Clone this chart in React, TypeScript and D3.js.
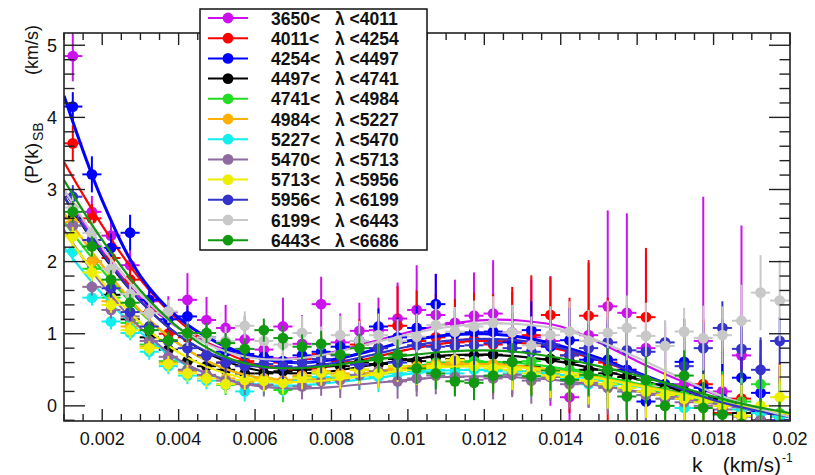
import React from 'react';
import * as d3 from 'd3';

// ---------- data ----------
const K_CENTERS = [0.00123, 0.00173, 0.00223, 0.00273, 0.00323, 0.00373, 0.00423, 0.00473, 0.00523, 0.00573,
  0.00623, 0.00673, 0.00723, 0.00773, 0.00823, 0.00873, 0.00923, 0.00973, 0.01023, 0.01073,
  0.01123, 0.01173, 0.01223, 0.01273, 0.01323, 0.01373, 0.01423, 0.01473, 0.01523, 0.01573,
  0.01623, 0.01673, 0.01723, 0.01773, 0.01823, 0.01873, 0.01923, 0.01973];
const K_HALF_WIDTH = 0.00025;
const FIT_K = [0.001, 0.002, 0.003, 0.004, 0.005, 0.006, 0.007, 0.008, 0.009, 0.010,
  0.011, 0.012, 0.013, 0.014, 0.015, 0.016, 0.017, 0.018, 0.019, 0.020];

const LAMBDA_LOW = [3650, 4011, 4254, 4497, 4741, 4984, 5227, 5470, 5713, 5956, 6199, 6443];
const LAMBDA_HIGH = [4011, 4254, 4497, 4741, 4984, 5227, 5470, 5713, 5956, 6199, 6443, 6686];
const COLORS = ['#cc11ee', '#ff0000', '#0000ff', '#000000', '#22dd22', '#ffb000', '#11eeee', '#8e6aa0', '#eeee00', '#3333cc', '#c8c8c8', '#119911'];

const P_3650 = [4.85, 2.69, 2.36, 1.95, 1.45, 1.30, 1.47, 1.19, 1.08, 0.92, 0.78, 1.10, 0.86, 1.41, 0.88, 1.04, 1.05, 1.21, 1.33, 1.26, 1.15, 1.25, 1.28, 1.02, 0.95, 0.90, 0.12, 0.98, 1.38, 1.29, 0.80, 0.20, 0.30, 0.90, 0.20, 0.70, -0.50, -0.60];
const E_3650 = [0.35, 0.22, 0.20, 0.20, 0.20, 0.22, 0.37, 0.32, 0.32, 0.33, 0.35, 0.40, 0.40, 0.38, 0.40, 0.39, 0.45, 0.50, 0.62, 0.57, 0.60, 0.60, 0.74, 0.56, 0.80, 0.90, 0.85, 1.00, 1.33, 1.38, 1.30, 0.90, 0.90, 2.00, 1.00, 1.80, 1.00, 1.00];
const P_4011 = [3.64, 2.60, 2.05, 1.75, 1.30, 1.00, 0.95, 0.70, 0.60, 0.62, 0.55, 0.60, 0.65, 0.72, 0.62, 0.85, 0.80, 1.11, 0.90, 0.95, 0.88, 0.92, 0.85, 0.90, 0.98, 1.26, 0.70, 1.25, 0.60, 0.50, 1.23, 0.20, 0.10, 0.30, -0.10, 0.10, -0.20, -0.30];
const E_4011 = [0.25, 0.20, 0.15, 0.15, 0.15, 0.15, 0.18, 0.20, 0.20, 0.22, 0.25, 0.28, 0.30, 0.30, 0.32, 0.35, 0.40, 0.55, 0.70, 0.60, 0.60, 0.65, 0.70, 0.75, 0.83, 0.53, 0.80, 0.77, 0.90, 0.90, 0.96, 0.90, 0.90, 0.90, 0.90, 0.90, 0.90, 0.90];
const P_4254 = [4.15, 3.21, 2.19, 2.40, 1.47, 1.20, 1.24, 0.95, 0.75, 0.72, 0.68, 0.62, 0.70, 0.75, 0.82, 0.90, 1.10, 0.95, 1.08, 1.41, 1.00, 1.02, 1.03, 0.88, 1.05, 0.82, 0.91, 0.64, 0.64, 0.50, 0.06, 0.30, 0.61, 0.25, 0.10, 0.39, 0.18, -0.20];
const E_4254 = [0.20, 0.25, 0.20, 0.25, 0.18, 0.15, 0.15, 0.15, 0.15, 0.15, 0.15, 0.18, 0.20, 0.20, 0.22, 0.25, 0.25, 0.28, 0.30, 0.42, 0.32, 0.35, 0.35, 0.40, 0.40, 0.45, 0.45, 0.50, 0.50, 0.55, 0.55, 0.60, 0.60, 0.65, 0.65, 0.70, 0.73, 0.75];
const P_4497 = [2.60, 2.00, 1.54, 1.20, 0.95, 0.78, 0.62, 0.55, 0.50, 0.45, 0.45, 0.48, 0.50, 0.55, 0.55, 0.60, 0.58, 0.65, 0.62, 0.68, 0.65, 0.70, 0.71, 0.60, 0.55, 0.65, 0.61, 0.50, 0.45, 0.40, 0.30, 0.25, 0.20, 0.10, 0.00, -0.10, -0.20, -0.30];
const E_4497 = [0.15, 0.12, 0.13, 0.12, 0.11, 0.12, 0.13, 0.14, 0.13, 0.15, 0.17, 0.16, 0.18, 0.20, 0.19, 0.22, 0.21, 0.24, 0.25, 0.23, 0.27, 0.26, 0.28, 0.30, 0.29, 0.32, 0.31, 0.34, 0.36, 0.35, 0.38, 0.37, 0.40, 0.42, 0.41, 0.44, 0.46, 0.45];
const P_4741 = [2.50, 1.90, 1.50, 1.15, 0.85, 0.62, 0.50, 0.42, 0.29, 0.35, 0.38, 0.22, 0.40, 0.45, 0.42, 0.50, 0.45, 0.55, 0.50, 0.60, 0.55, 0.62, 0.50, 0.55, 0.62, 0.45, 0.50, 0.40, 0.35, 0.30, 0.30, 0.20, 0.15, 0.10, 0.05, 0.06, 0.30, -0.10];
const E_4741 = [0.14, 0.12, 0.12, 0.11, 0.12, 0.12, 0.13, 0.13, 0.14, 0.15, 0.16, 0.17, 0.18, 0.19, 0.19, 0.21, 0.22, 0.23, 0.24, 0.25, 0.26, 0.27, 0.28, 0.29, 0.31, 0.30, 0.33, 0.34, 0.35, 0.37, 0.38, 0.39, 0.40, 0.42, 0.43, 0.44, 0.45, 0.47];
const P_4984 = [2.55, 2.00, 1.45, 1.10, 0.82, 0.60, 0.48, 0.42, 0.38, 0.33, 0.38, 0.35, 0.42, 0.48, 0.45, 0.50, 0.48, 0.52, 0.55, 0.58, 0.60, 0.55, 0.58, 0.50, 0.48, 0.45, 0.42, 0.35, 0.30, 0.25, 0.20, 0.15, 0.10, 0.05, 0.00, -0.05, -0.10, -0.15];
const E_4984 = [0.14, 0.12, 0.11, 0.12, 0.11, 0.12, 0.12, 0.14, 0.13, 0.15, 0.16, 0.16, 0.18, 0.19, 0.20, 0.20, 0.22, 0.23, 0.25, 0.24, 0.26, 0.28, 0.27, 0.30, 0.31, 0.30, 0.33, 0.35, 0.34, 0.37, 0.38, 0.40, 0.39, 0.42, 0.44, 0.43, 0.46, 0.48];
const P_5227 = [2.14, 1.50, 1.17, 1.01, 0.75, 0.55, 0.42, 0.35, 0.30, 0.20, 0.30, 0.28, 0.35, 0.40, 0.38, 0.42, 0.40, 0.45, 0.48, 0.50, 0.45, 0.50, 0.48, 0.45, 0.42, 0.40, 0.38, 0.30, 0.28, 0.20, 0.15, 0.10, -0.03, 0.05, 0.00, -0.05, -0.10, -0.15];
const E_5227 = [0.13, 0.11, 0.11, 0.10, 0.11, 0.11, 0.12, 0.12, 0.13, 0.14, 0.15, 0.16, 0.17, 0.17, 0.19, 0.20, 0.21, 0.21, 0.23, 0.24, 0.25, 0.25, 0.27, 0.28, 0.29, 0.30, 0.31, 0.32, 0.34, 0.35, 0.36, 0.37, 0.38, 0.40, 0.41, 0.42, 0.44, 0.45];
const P_5470 = [2.50, 1.65, 1.33, 1.24, 0.90, 0.68, 0.50, 0.43, 0.35, 0.30, 0.29, 0.33, 0.27, 0.34, 0.36, 0.43, 0.48, 0.34, 0.38, 0.42, 0.40, 0.36, 0.38, 0.43, 0.35, 0.40, 0.30, 0.32, 0.25, 0.20, 0.15, 0.10, 0.05, 0.00, -0.05, -0.15, -0.20, -0.30];
const E_5470 = [0.14, 0.12, 0.12, 0.11, 0.11, 0.12, 0.12, 0.13, 0.14, 0.15, 0.16, 0.17, 0.18, 0.20, 0.25, 0.21, 0.22, 0.24, 0.25, 0.26, 0.27, 0.28, 0.29, 0.31, 0.32, 0.33, 0.34, 0.35, 0.37, 0.38, 0.39, 0.41, 0.42, 0.43, 0.45, 0.46, 0.47, 0.49];
const P_5713 = [2.35, 1.85, 1.40, 1.05, 0.80, 0.58, 0.45, 0.38, 0.30, 0.36, 0.35, 0.32, 0.39, 0.46, 0.42, 0.50, 0.45, 0.55, 0.52, 0.55, 0.64, 0.55, 0.52, 0.50, 0.45, 0.42, 0.40, 0.35, 0.30, 0.25, 0.20, 0.15, 0.10, 0.05, 0.00, -0.14, 0.00, 0.12];
const E_5713 = [0.13, 0.12, 0.11, 0.11, 0.10, 0.11, 0.12, 0.12, 0.13, 0.14, 0.15, 0.16, 0.16, 0.18, 0.19, 0.20, 0.21, 0.22, 0.23, 0.24, 0.25, 0.26, 0.27, 0.28, 0.30, 0.31, 0.32, 0.33, 0.34, 0.36, 0.37, 0.38, 0.39, 0.41, 0.42, 0.43, 0.45, 0.46];
const P_5956 = [2.90, 2.30, 1.63, 1.30, 1.10, 0.90, 0.80, 0.70, 0.60, 0.55, 0.58, 0.55, 0.60, 0.65, 0.70, 0.57, 0.80, 0.60, 0.84, 0.82, 0.83, 0.84, 0.87, 0.80, 0.75, 0.85, 0.70, 0.80, 0.88, 0.77, 0.75, 0.88, 0.55, 0.80, 1.08, 0.79, 0.50, 0.90];
const E_5956 = [0.16, 0.14, 0.13, 0.12, 0.13, 0.13, 0.14, 0.15, 0.15, 0.16, 0.17, 0.18, 0.19, 0.20, 0.21, 0.22, 0.23, 0.24, 0.25, 0.26, 0.27, 0.28, 0.29, 0.30, 0.31, 0.32, 0.33, 0.34, 0.34, 0.33, 0.32, 0.30, 0.35, 0.36, 0.37, 0.40, 0.45, 0.33];
const P_6199 = [2.75, 2.40, 1.90, 1.55, 1.29, 1.31, 1.00, 0.95, 0.90, 1.11, 0.90, 0.85, 1.01, 0.85, 0.98, 0.90, 0.98, 0.90, 0.96, 1.12, 1.03, 1.10, 1.15, 1.02, 0.84, 0.98, 1.03, 0.90, 1.01, 1.08, 0.97, 0.83, 1.03, 0.94, 0.98, 1.18, 1.57, 1.46];
const E_6199 = [0.20, 0.18, 0.16, 0.15, 0.15, 0.16, 0.17, 0.18, 0.20, 0.20, 0.22, 0.22, 0.24, 0.25, 0.27, 0.28, 0.30, 0.30, 0.32, 0.33, 0.34, 0.36, 0.37, 0.38, 0.40, 0.40, 0.42, 0.43, 0.45, 0.45, 0.46, 0.35, 0.33, 0.45, 0.40, 0.50, 0.52, 0.56];
const P_6443 = [2.69, 2.21, 1.75, 1.43, 1.05, 0.91, 1.01, 1.01, 0.87, 0.79, 1.05, 0.94, 0.82, 0.86, 0.71, 0.80, 0.66, 0.71, 0.52, 0.45, 0.34, 0.32, 0.42, 0.61, 0.41, 0.49, 0.36, 0.43, 0.50, 0.13, 0.36, 0.00, 0.42, -0.03, -0.12, -0.25, -0.30, -0.35];
const E_6443 = [0.15, 0.14, 0.13, 0.12, 0.12, 0.12, 0.13, 0.14, 0.14, 0.15, 0.16, 0.17, 0.17, 0.18, 0.19, 0.20, 0.20, 0.21, 0.22, 0.22, 0.20, 0.24, 0.24, 0.26, 0.27, 0.28, 0.29, 0.30, 0.30, 0.32, 0.33, 0.34, 0.35, 0.36, 0.37, 0.38, 0.40, 0.41];

const FIT_3650 = [3.0, 2.15, 1.5, 1.08, 0.82, 0.68, 0.66, 0.74, 0.88, 1.02, 1.13, 1.19, 1.18, 1.1, 0.88, 0.62, 0.38, 0.17, -0.01, -0.15];
const FIT_4011 = [3.38, 2.5, 1.75, 1.18, 0.8, 0.58, 0.5, 0.55, 0.66, 0.78, 0.87, 0.9, 0.87, 0.78, 0.63, 0.45, 0.27, 0.1, -0.03, -0.13];
const FIT_4254 = [4.3, 2.85, 1.8, 1.22, 0.88, 0.68, 0.6, 0.64, 0.76, 0.9, 0.98, 1.0, 0.95, 0.83, 0.66, 0.46, 0.26, 0.07, -0.06, -0.15];
const FIT_4497 = [2.9, 2.1, 1.45, 0.98, 0.67, 0.5, 0.45, 0.48, 0.56, 0.64, 0.7, 0.71, 0.68, 0.61, 0.5, 0.37, 0.23, 0.1, -0.02, -0.12];
const FIT_4741 = [2.55, 1.88, 1.3, 0.86, 0.56, 0.4, 0.35, 0.38, 0.46, 0.54, 0.6, 0.61, 0.59, 0.52, 0.42, 0.31, 0.19, 0.07, -0.03, -0.12];
const FIT_4984 = [2.67, 1.95, 1.32, 0.86, 0.56, 0.4, 0.36, 0.39, 0.46, 0.53, 0.57, 0.58, 0.55, 0.48, 0.39, 0.29, 0.18, 0.07, -0.03, -0.12];
const FIT_5227 = [2.2, 1.55, 1.02, 0.62, 0.4, 0.3, 0.28, 0.32, 0.38, 0.44, 0.49, 0.5, 0.48, 0.43, 0.36, 0.27, 0.17, 0.07, -0.03, -0.12];
const FIT_5470 = [2.44, 1.68, 1.08, 0.64, 0.4, 0.28, 0.24, 0.26, 0.31, 0.36, 0.4, 0.41, 0.39, 0.35, 0.28, 0.2, 0.12, 0.03, -0.05, -0.13];
const FIT_5713 = [2.4, 1.72, 1.15, 0.74, 0.49, 0.36, 0.33, 0.36, 0.43, 0.5, 0.54, 0.55, 0.53, 0.47, 0.38, 0.28, 0.17, 0.07, -0.03, -0.12];
const FIT_5956 = [2.9, 2.12, 1.45, 0.98, 0.69, 0.55, 0.53, 0.59, 0.7, 0.82, 0.9, 0.93, 0.9, 0.8, 0.64, 0.45, 0.26, 0.08, -0.05, -0.15];
const FIT_6199 = [3.0, 2.2, 1.55, 1.08, 0.8, 0.66, 0.65, 0.73, 0.86, 0.99, 1.09, 1.14, 1.13, 1.06, 0.9, 0.67, 0.42, 0.18, -0.01, -0.15];
const FIT_6443 = [3.13, 2.3, 1.6, 1.08, 0.73, 0.56, 0.52, 0.56, 0.63, 0.7, 0.75, 0.77, 0.74, 0.66, 0.55, 0.42, 0.28, 0.13, 0.0, -0.1];

const POINTS = [P_3650, P_4011, P_4254, P_4497, P_4741, P_4984, P_5227, P_5470, P_5713, P_5956, P_6199, P_6443];
const ERRORS = [E_3650, E_4011, E_4254, E_4497, E_4741, E_4984, E_5227, E_5470, E_5713, E_5956, E_6199, E_6443];
const FITS = [FIT_3650, FIT_4011, FIT_4254, FIT_4497, FIT_4741, FIT_4984, FIT_5227, FIT_5470, FIT_5713, FIT_5956, FIT_6199, FIT_6443];

const X_TICK_LABELS = ['0.002', '0.004', '0.006', '0.008', '0.01', '0.012', '0.014', '0.016', '0.018', '0.02'];
const Y_TICK_LABELS = ['0', '1', '2', '3', '4', '5'];

// ---------- layout ----------
const W = 815;
const H = 475;
const L = 64, R = 790, T = 33, B = 421;
const FONT = '"Liberation Sans", Arial, Helvetica, sans-serif';

export default function App() {
  const x = d3.scaleLinear().domain([0.001, 0.02]).range([L, R]);
  const y = d3.scaleLinear().domain([-0.21, 5.17]).range([B, T]);

  const xMajor = x.ticks(10);
  const xMinor = x.ticks(40);
  const yMajor = y.ticks(5);
  const yMinor = y.ticks(25);

  const line = d3.line<[number, number]>()
    .x(d => x(d[0]))
    .y(d => y(d[1]))
    .curve(d3.curveCatmullRom.alpha(0.5));

  const isMajorX = (v: number) => xMajor.some(m => Math.abs(m - v) < 1e-9);
  const isMajorY = (v: number) => yMajor.some(m => Math.abs(m - v) < 1e-9);

  return (
    <svg width={W} height={H} style={{ position: 'absolute', left: 0, top: 0, background: '#fff' }}
      fontFamily={FONT}>
      <defs>
        <clipPath id="frame">
          <rect x={L} y={T} width={R - L} height={B - T} />
        </clipPath>
      </defs>
      <rect x={0} y={0} width={W} height={H} fill="#fff" />

      {/* data */}
      <g clipPath="url(#frame)">
        {POINTS.map((pts, s) => (
          <g key={s}>
            {pts.map((v, i) => {
              const k = K_CENTERS[i];
              const e = ERRORS[s][i];
              return (
                <g key={i} stroke={COLORS[s]} strokeWidth={2}>
                  <line x1={x(k - K_HALF_WIDTH)} x2={x(k + K_HALF_WIDTH)} y1={y(v)} y2={y(v)} />
                  <line x1={x(k)} x2={x(k)} y1={y(v - e)} y2={y(v + e)} />
                </g>
              );
            })}
            {pts.map((v, i) => (
              <circle key={'m' + i} cx={x(K_CENTERS[i])} cy={y(v)} r={5.4} fill={COLORS[s]} />
            ))}
            <path d={line(FIT_K.map((k, j) => [k, FITS[s][j]] as [number, number])) || ''}
              fill="none" stroke={COLORS[s]} strokeWidth={s === 2 ? 3 : 2.2} />
          </g>
        ))}
      </g>

      {/* frame & ticks */}
      <g stroke="#222" strokeWidth={1.4}>
        <rect x={L} y={T} width={R - L} height={B - T} fill="none" strokeWidth={1.6} />
        {xMinor.map((v, i) => {
          const len = isMajorX(v) ? 12 : 7;
          return (
            <g key={'xt' + i}>
              <line x1={x(v)} x2={x(v)} y1={B} y2={B - len} />
              <line x1={x(v)} x2={x(v)} y1={T} y2={T + len} />
            </g>
          );
        })}
        {yMinor.map((v, i) => {
          const len = isMajorY(v) ? 21 : 10.5;
          return (
            <g key={'yt' + i}>
              <line x1={L} x2={L + len} y1={y(v)} y2={y(v)} />
              <line x1={R} x2={R - len} y1={y(v)} y2={y(v)} />
            </g>
          );
        })}
      </g>

      {/* tick labels */}
      <g fontSize={18} fill="#111">
        {xMajor.map((v, i) => (
          <text key={'xl' + i} x={x(v)} y={445} textAnchor="middle">{X_TICK_LABELS[i]}</text>
        ))}
        {yMajor.map((v, i) => (
          <text key={'yl' + i} x={57} y={y(v) + 6.5} textAnchor="end">{Y_TICK_LABELS[i]}</text>
        ))}
      </g>

      {/* axis titles */}
      <g transform="translate(38,0) rotate(-90)" fill="#111">
        <text x={-184} y={0} fontSize={19}>(P(k)</text>
        <text x={-141} y={5} fontSize={14}>SB</text>
        <text x={-25} y={0} fontSize={18} textAnchor="end">(km/s)</text>
      </g>
      <g fill="#111">
        <text x={692} y={472} fontSize={21}>k</text>
        <text x={781} y={472} fontSize={21} textAnchor="end">(km/s)</text>
        <text x={782} y={462} fontSize={12}>-1</text>
      </g>

      {/* legend */}
      <g>
        <rect x={200} y={9} width={227} height={241} fill="#fff" stroke="#111" strokeWidth={1.5} />
        {LAMBDA_LOW.map((lo, i) => {
          const cy = 18 + i * 20.2;
          return (
            <g key={'lg' + i}>
              <line x1={208} x2={248} y1={cy} y2={cy} stroke={COLORS[i]} strokeWidth={2} />
              <circle cx={228} cy={cy} r={5.4} fill={COLORS[i]} />
              <text x={271} y={cy + 6.5} fontSize={17.5} fontWeight="bold" fill="#111">{lo + '<'}</text>
              <text x={335} y={cy + 6.5} fontSize={17.5} fontWeight="bold" fill="#111">{'λ <' + LAMBDA_HIGH[i]}</text>
            </g>
          );
        })}
      </g>
    </svg>
  );
}
